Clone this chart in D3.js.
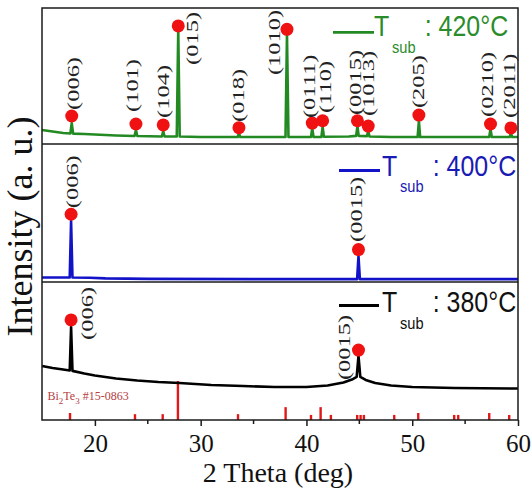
<!DOCTYPE html>
<html>
<head>
<meta charset="utf-8">
<script src="https://cdn.jsdelivr.net/npm/d3@7"></script>
<style>
  body { margin: 0; background: #fff; }
  svg { display: block; }
</style>
</head>
<body>
<div id="chart"></div>
<script>
// 2 theta axis
const xDomain = [15, 60];
const majorTicks = [20, 30, 40, 50, 60];
const minorTicks = [25, 35, 45, 55];

// measured patterns, [2theta, intensity a.u.] (0-100 per panel)
const pattern420 = [
  [15.0, 10.3], [16.0, 9.2], [17.0, 8.1], [17.68, 7.7], [17.81, 15.4], [17.94, 7.6],
  [19.0, 7.4], [20.0, 7.0], [22.0, 6.3], [23.75, 5.9], [23.88, 10.3], [24.01, 5.9],
  [26.33, 5.5], [26.46, 9.6], [26.59, 5.5], [27.74, 5.5], [27.88, 83.8], [28.02, 5.5],
  [30.0, 5.1], [33.5, 5.1], [33.62, 8.1], [33.74, 5.1], [38.02, 5.1], [38.16, 80.9],
  [38.3, 5.1], [40.43, 5.1], [40.55, 11.8], [40.67, 5.1], [41.41, 5.1], [41.53, 12.5],
  [41.65, 5.3], [44.0, 5.5], [44.7, 6.0], [44.82, 13.2], [44.94, 6.0], [45.72, 5.8],
  [45.84, 9.6], [45.96, 5.5], [48.0, 5.1], [50.51, 5.1], [50.63, 16.9], [50.75, 5.1],
  [57.28, 5.1], [57.4, 11.0], [57.52, 5.1], [59.21, 5.1], [59.33, 8.1], [59.45, 5.1],
  [60.0, 5.1]
];
const pattern400 = [
  [15.0, 3.3], [17.62, 3.3], [17.75, 44.2], [17.88, 3.3], [19.5, 3.1], [21.0, 2.6],
  [25.0, 2.3], [35.0, 2.1], [44.79, 2.1], [44.92, 18.8], [45.05, 2.1], [60.0, 2.1]
];
const pattern380 = [
  [15.0, 39.1], [16.0, 37.7], [17.0, 36.6], [17.62, 35.9], [17.75, 67.4], [17.88, 35.6],
  [19.0, 33.7], [20.0, 32.2], [22.0, 30.1], [24.0, 28.6], [26.0, 27.5], [28.0, 26.8],
  [31.0, 25.4], [34.0, 24.6], [37.0, 23.9], [40.0, 23.9], [42.0, 25.0], [43.5, 27.2],
  [44.3, 29.3], [44.75, 31.2], [44.92, 46.4], [45.09, 31.2], [45.6, 29.0], [46.5, 26.8],
  [48.0, 25.0], [50.0, 23.9], [54.0, 23.2], [60.0, 22.8]
];

// indexed peaks: hkl, 2theta, marker intensity
const peaks420 = [
  ['(006)', 17.81, 20.6], ['(101)', 23.88, 14.7], ['(104)', 26.46, 14.0],
  ['(015)', 27.88, 86.8], ['(018)', 33.62, 12.0], ['(1010)', 38.16, 84.3],
  ['(0111)', 40.55, 15.4], ['(110)', 41.53, 17.1], ['(0015)', 44.82, 17.1],
  ['(1013)', 45.84, 13.2], ['(205)', 50.63, 21.3], ['(0210)', 57.4, 14.7],
  ['(2011)', 59.33, 11.8]
];
const peaks400 = [['(006)', 17.75, 49.1], ['(0015)', 44.92, 23.5]];
const peaks380 = [['(006)', 17.75, 72.5], ['(0015)', 44.92, 50.7]];

// label nudges in px [dx, dy] from the marker
const nudge420 = [[3.3, -6], [-2, -12], [1.7, -7], [15, 39], [0.3, -5.7], [-11, 45.7],
  [-1.6, -5], [4, -7.7], [-1, -5.7], [1.7, -10], [1, -7], [-1.4, -7], [-0.3, -10]];
const nudge400 = [[3, -6], [-0.7, -7.6]];
const nudge380 = [[18, 20], [-12.7, 30]];

// Bi2Te3 JCPDS #15-0863
const refTheta = [17.65, 23.79, 26.41, 27.85, 33.53, 38.03, 40.43, 41.34, 42.31,
  44.8, 45.12, 45.43, 48.3, 50.57, 53.97, 54.35, 57.28, 59.17];
const refIntensity = [18, 15, 15, 100, 15, 33, 13, 33, 13, 13, 13, 13, 13, 18, 13, 13, 18, 13];

const width = 532;
const height = 491;
const left = 42;
const right = 518;
const serif = '"Liberation Serif", "Times New Roman", serif';
const sans = '"Liberation Sans", Arial, sans-serif';

const panels = [
  { top: 8, bottom: 144, data: pattern420, peaks: peaks420, nudge: nudge420, color: '#238a23', textColor: '#2a8c2a',
    label: ': 420°C', line: [333, 374, 32.3], tx: 374, base: 36 },
  { top: 144, bottom: 282, data: pattern400, peaks: peaks400, nudge: nudge400, color: '#1212c8', textColor: '#1a1ab4',
    label: ': 400°C', line: [339, 380, 170.5], tx: 382, base: 175.5 },
  { top: 282, bottom: 420, data: pattern380, peaks: peaks380, nudge: nudge380, color: '#000', textColor: '#111',
    label: ': 380°C', line: [339, 379, 305.5], tx: 382, base: 312 },
];

const x = d3.scaleLinear().domain(xDomain).range([left, right]);

const svg = d3.select('#chart').append('svg')
  .attr('width', width)
  .attr('height', height);

// reference bars
const yRef = d3.scaleLinear().domain([0, 100]).range([420, 381]);
svg.selectAll('.ref')
  .data(refTheta)
  .enter().append('line')
  .attr('class', 'ref')
  .attr('x1', d => x(d)).attr('x2', d => x(d))
  .attr('y1', yRef(0))
  .attr('y2', (d, i) => yRef(refIntensity[i]))
  .style('stroke', '#e01818')
  .style('stroke-width', 2.4);

const refLabel = svg.append('text')
  .attr('x', 47.5).attr('y', 400)
  .style('font-family', serif)
  .style('font-size', '12px')
  .style('fill', '#b5403f');
refLabel.append('tspan').text('Bi');
refLabel.append('tspan').attr('dy', 3.5).style('font-size', '9px').text('2');
refLabel.append('tspan').attr('dy', -3.5).text('Te');
refLabel.append('tspan').attr('dy', 3.5).style('font-size', '9px').text('3');
refLabel.append('tspan').attr('dy', -3.5).text(' #15-0863');

panels.forEach(p => {
  const y = d3.scaleLinear().domain([0, 100]).range([p.bottom, p.top]);

  const line = d3.line()
    .x(d => x(d[0]))
    .y(d => y(d[1]));

  svg.append('path')
    .datum(p.data)
    .attr('d', line)
    .style('fill', 'none')
    .style('stroke', p.color)
    .style('stroke-width', 2.6)
    .style('stroke-linejoin', 'round');

  svg.append('g').selectAll('circle')
    .data(p.peaks)
    .enter().append('circle')
    .attr('cx', d => x(d[1]))
    .attr('cy', d => y(d[2]))
    .attr('r', 6.5)
    .style('fill', '#f01212');

  svg.append('g').selectAll('text')
    .data(p.peaks)
    .enter().append('text')
    .attr('transform', (d, i) => {
      const bx = x(d[1]) + p.nudge[i][0] + 4.4;
      const by = y(d[2]) + p.nudge[i][1];
      return `translate(${bx},${by}) rotate(-90) scale(1.4,1)`;
    })
    .style('font-family', serif)
    .style('font-size', '17.5px')
    .style('fill', '#222')
    .text(d => d[0]);

  // legend
  svg.append('line')
    .attr('x1', p.line[0]).attr('x2', p.line[1])
    .attr('y1', p.line[2]).attr('y2', p.line[2])
    .style('stroke', p.color)
    .style('stroke-width', 2.8);

  const lg = svg.append('g')
    .attr('transform', `translate(${p.tx},${p.base}) scale(0.86,1)`)
    .style('font-family', sans)
    .style('fill', p.textColor);
  lg.append('text').style('font-size', '29px').text('T');
  lg.append('text').attr('x', 21).attr('y', 17).style('font-size', '17px').text('sub');
  lg.append('text').attr('x', 59).style('font-size', '29px').text(p.label);
});

// frame
svg.append('rect')
  .attr('x', left).attr('y', 8)
  .attr('width', right - left).attr('height', 412)
  .style('fill', 'none')
  .style('stroke', '#1a1a1a')
  .style('stroke-width', 1.5);
[144, 282].forEach(yy => {
  svg.append('line')
    .attr('x1', left).attr('x2', right)
    .attr('y1', yy).attr('y2', yy)
    .style('stroke', '#1a1a1a')
    .style('stroke-width', 1.5);
});

// x axis
const axis = svg.append('g')
  .attr('transform', 'translate(0,420)')
  .call(d3.axisBottom(x).tickValues(majorTicks).tickSize(6).tickPadding(8));
axis.select('.domain').remove();
axis.selectAll('.tick line').style('stroke', '#1a1a1a').style('stroke-width', 1.5);
axis.selectAll('.tick text')
  .style('font-family', serif)
  .style('font-size', '25px')
  .style('fill', '#111');

svg.append('g').selectAll('line')
  .data(minorTicks)
  .enter().append('line')
  .attr('x1', d => x(d)).attr('x2', d => x(d))
  .attr('y1', 420).attr('y2', 424)
  .style('stroke', '#1a1a1a')
  .style('stroke-width', 1.5);

svg.append('text')
  .attr('x', 278).attr('y', 482)
  .attr('text-anchor', 'middle')
  .style('font-family', serif)
  .style('font-size', '28px')
  .style('fill', '#111')
  .text('2 Theta (deg)');

svg.append('text')
  .attr('transform', 'translate(32,226.5) rotate(-90)')
  .attr('text-anchor', 'middle')
  .style('font-family', serif)
  .style('font-size', '36px')
  .style('fill', '#111')
  .text('Intensity (a. u.)');
</script>
</body>
</html>
